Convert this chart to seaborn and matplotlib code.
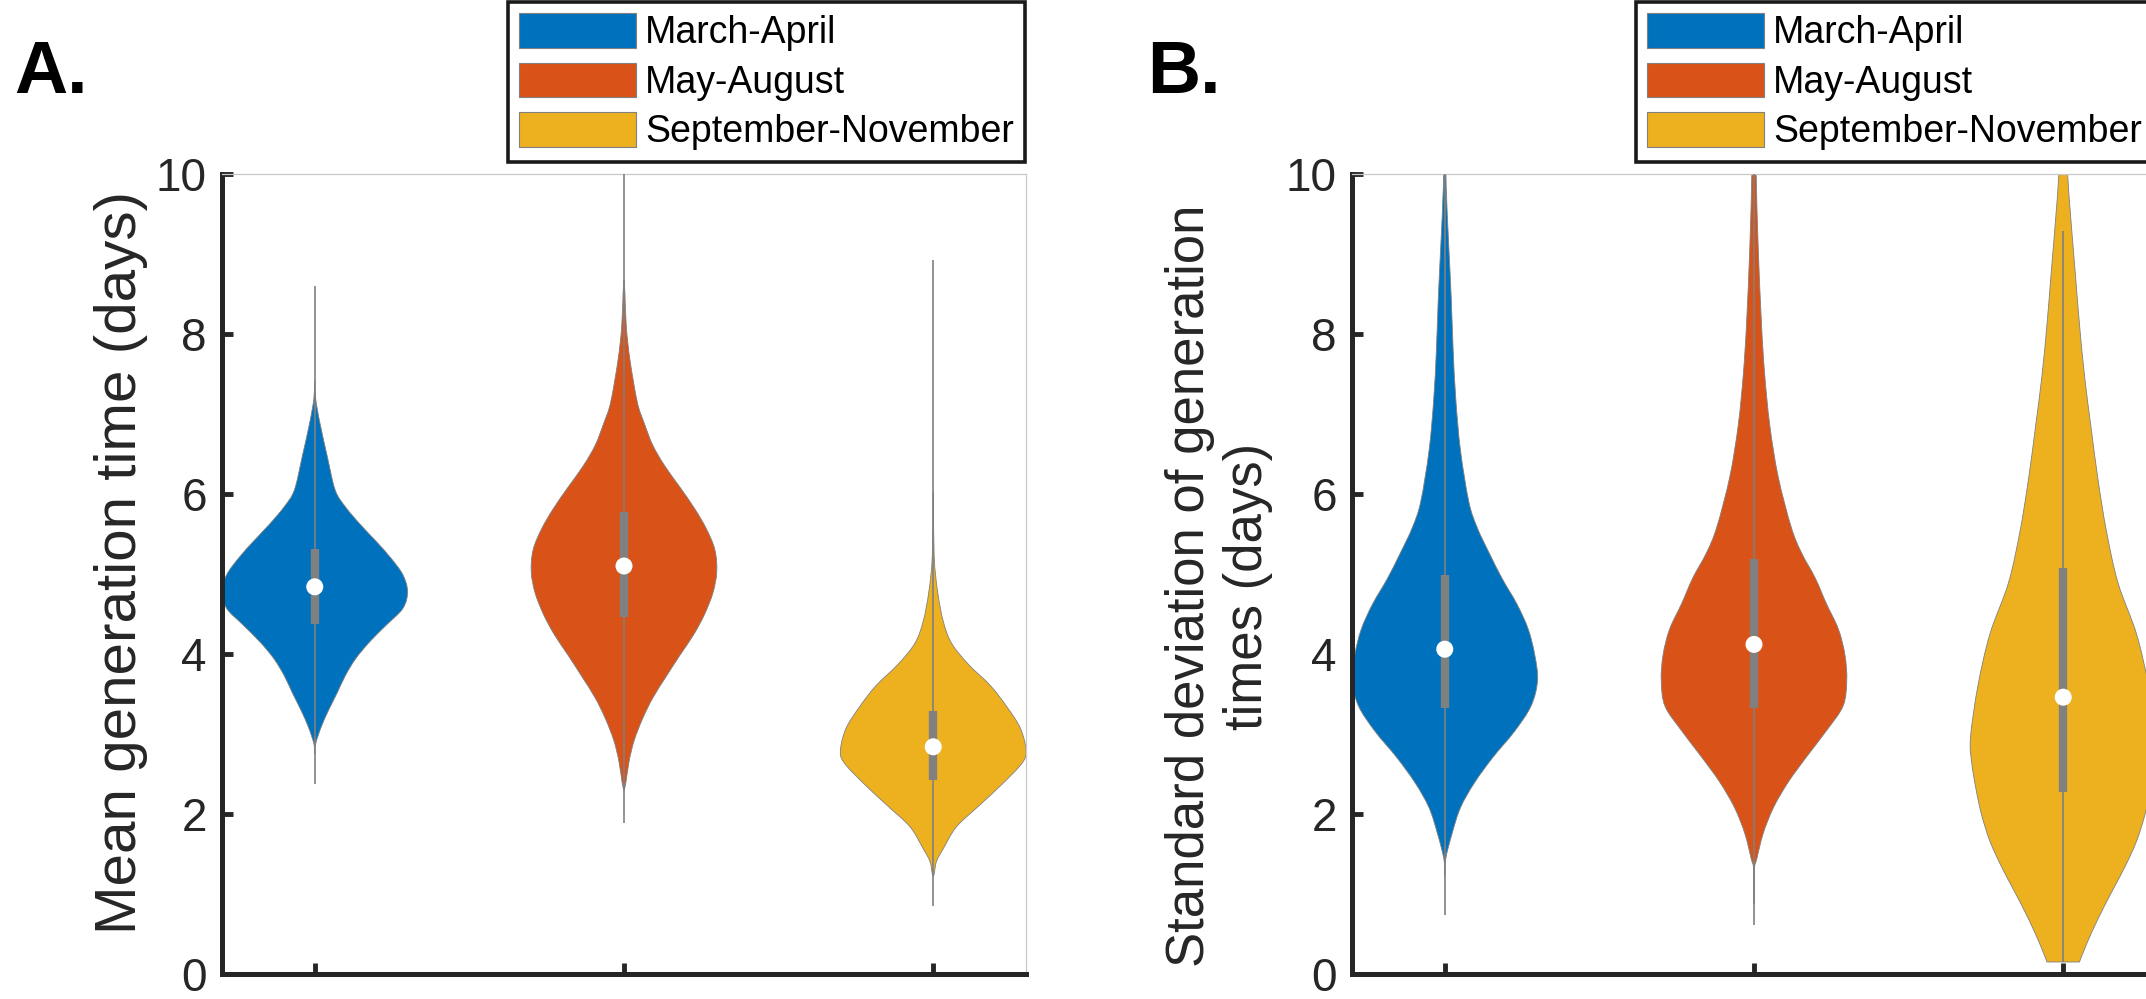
import numpy as np
import matplotlib
matplotlib.use("Agg")
import matplotlib.pyplot as plt
import seaborn as sns
from matplotlib.patches import Patch, PathPatch
from matplotlib.path import Path

# ---------------- data ----------------
seasons = ["March-April", "May-August", "September-November"]
colors = ["#0072BD", "#D95319", "#EDB120"]

# Panel A: mean generation time (days)
a_median = [4.84, 5.10, 2.84]
a_q1 = [4.38, 4.46, 2.43]
a_q3 = [5.31, 5.78, 3.29]
a_lo = [2.38, 1.89, 0.85]
a_hi = [8.60, 10.0, 8.93]

# violin outlines: y values and relative half-width (1 = widest)
a1_y = [7.42, 7.19, 6.89, 6.47, 6.05, 5.84, 5.62, 5.41, 5.20, 4.99, 4.78,
        4.57, 4.36, 4.15, 3.94, 3.73, 3.51, 3.30, 3.09, 2.88, 2.75]
a1_w = [0.0, 0.01, 0.055, 0.135, 0.22, 0.33, 0.49, 0.66, 0.82, 0.95, 1.0,
        0.95, 0.77, 0.59, 0.44, 0.33, 0.24, 0.15, 0.07, 0.01, 0.0]
a2_y = [8.68, 8.51, 8.09, 7.67, 7.14, 6.88, 6.61, 6.35, 6.09, 5.82, 5.56, 5.30,
        5.03, 4.77, 4.50, 4.24, 3.98, 3.71, 3.45, 3.19, 2.92, 2.66, 2.39, 2.29]
a2_w = [0.0, 0.01, 0.025, 0.065, 0.145, 0.22, 0.31, 0.44, 0.60, 0.76, 0.89, 0.98,
        1.0, 0.96, 0.87, 0.75, 0.60, 0.45, 0.31, 0.20, 0.11, 0.055, 0.02, 0.0]
a3_y = [6.03, 5.23, 4.78, 4.40, 4.13, 3.87, 3.60, 3.33, 3.07, 2.80, 2.64,
        2.37, 2.10, 1.84, 1.57, 1.41, 1.25, 1.22]
a3_w = [0.0, 0.01, 0.047, 0.11, 0.20, 0.38, 0.62, 0.80, 0.94, 1.0, 0.96,
        0.74, 0.49, 0.25, 0.11, 0.036, 0.01, 0.0]

# Panel B: standard deviation of generation times (days)
b_median = [4.06, 4.12, 3.46]
b_q1 = [3.33, 3.32, 2.27]
b_q3 = [4.99, 5.19, 5.07]
b_lo = [0.74, 0.61, 0.15]
b_hi = [10.5, 10.5, 9.29]

b1_y = [10.4, 9.85, 9.08, 8.45, 7.81, 7.17, 6.54, 5.90, 5.58, 5.26, 4.94, 4.62,
        4.31, 3.99, 3.67, 3.35, 3.03, 2.71, 2.39, 2.08, 1.76, 1.44, 1.22]
b1_w = [0.01, 0.015, 0.044, 0.07, 0.09, 0.12, 0.17, 0.26, 0.35, 0.48, 0.62, 0.78,
        0.90, 0.97, 1.0, 0.93, 0.75, 0.52, 0.32, 0.17, 0.08, 0.01, 0.0]
b2_y = [10.4, 9.92, 9.09, 8.14, 7.50, 6.86, 6.22, 5.59, 5.27, 4.95, 4.63, 4.31,
        3.99, 3.67, 3.35, 3.04, 2.72, 2.40, 2.08, 1.76, 1.44, 1.31, 0.87]
b2_w = [0.02, 0.025, 0.045, 0.08, 0.115, 0.17, 0.26, 0.40, 0.51, 0.66, 0.78, 0.91,
        0.98, 1.0, 0.96, 0.78, 0.57, 0.37, 0.21, 0.10, 0.03, 0.005, 0.0]
b3_y = [10.4, 10.0, 9.41, 8.76, 8.12, 7.47, 6.83, 6.18, 5.54, 4.89, 4.25, 3.60,
        2.95, 2.63, 2.31, 1.99, 1.66, 1.34, 1.02, 0.69, 0.37, 0.15]
b3_w = [0.04, 0.047, 0.084, 0.13, 0.175, 0.23, 0.30, 0.375, 0.465, 0.59, 0.79, 0.92,
        1.0, 0.985, 0.94, 0.88, 0.79, 0.665, 0.52, 0.375, 0.25, 0.175]

y_ticks = [0, 2, 4, 6, 8, 10]
a_ylabel = "Mean generation time (days)"
b_ylabel = "Standard deviation of generation\ntimes (days)"

# ---------------- style ----------------
sns.set_theme(style="white")
plt.rcParams["font.family"] = ["Liberation Sans", "DejaVu Sans"]

DARK = "#262626"
GREY = "#808080"
MAXW = 0.3

fig = plt.figure(figsize=(21.46, 9.99), dpi=100)
axA = fig.add_axes([222 / 2146, 25 / 999, 804 / 2146, 800 / 999])
axB = fig.add_axes([1352 / 2146, 25 / 999, 804 / 2146, 800 / 999])


def smooth_segments(pts):
    """Bezier control points of a Catmull-Rom curve through the given points."""
    pts = np.asarray(pts, dtype=float)
    ext = np.vstack([pts[0], pts, pts[-1]])
    verts = []
    for k in range(len(pts) - 1):
        p0, p1, p2, p3 = ext[k], ext[k + 1], ext[k + 2], ext[k + 3]
        verts += [p1 + (p2 - p0) / 6.0, p2 - (p3 - p1) / 6.0, p2]
    return verts


def violin_path(center, ys, ws):
    ys = np.asarray(ys, dtype=float)
    ws = MAXW * np.asarray(ws, dtype=float)
    left = np.column_stack([center - ws, ys])
    right = np.column_stack([center + ws, ys])[::-1]
    verts = [left[0]] + smooth_segments(left) + [right[0]] + smooth_segments(right) + [left[0]]
    nseg = 3 * (len(ys) - 1)
    codes = ([Path.MOVETO] + [Path.CURVE4] * nseg + [Path.LINETO]
             + [Path.CURVE4] * nseg + [Path.CLOSEPOLY])
    return Path(np.array(verts), codes)


def draw_panel(ax, profiles, med, q1, q3, lo, hi):
    pos = np.arange(len(profiles))
    for i, (py, pw) in enumerate(profiles):
        patch = PathPatch(violin_path(i, py, pw), facecolor=colors[i],
                          edgecolor=GREY, lw=0.6, zorder=2)
        ax.add_patch(patch)
    ax.vlines(pos, lo, hi, color=GREY, lw=1.2, zorder=3)
    ax.vlines(pos, q1, q3, color=GREY, lw=6, zorder=4)
    sns.scatterplot(x=pos, y=med, ax=ax, color="white", s=150,
                    edgecolor="none", zorder=5, legend=False)
    ax.set_xlim(-0.3, 2.3)
    ax.set_ylim(0, 10)
    ax.set_xticks(pos)
    ax.set_xticklabels([])
    ax.set_yticks(y_ticks)
    ax.set_yticklabels([str(t) for t in y_ticks])
    ax.tick_params(axis="both", which="major", direction="in", length=8,
                   width=3.5, color=DARK, labelcolor=DARK, labelsize=33,
                   left=True, bottom=True, top=False, right=False, pad=11)
    for s in ["left", "bottom"]:
        ax.spines[s].set_linewidth(3.6)
        ax.spines[s].set_color(DARK)
    for s in ["top", "right"]:
        ax.spines[s].set_linewidth(0.9)
        ax.spines[s].set_color("#c8c8c8")
    ax.grid(False)


draw_panel(axA, [(a1_y, a1_w), (a2_y, a2_w), (a3_y, a3_w)],
           a_median, a_q1, a_q3, a_lo, a_hi)
draw_panel(axB, [(b1_y, b1_w), (b2_y, b2_w), (b3_y, b3_w)],
           b_median, b_q1, b_q3, b_lo, b_hi)

axA.set_ylabel(a_ylabel, fontsize=42, color=DARK)
axA.yaxis.set_label_coords(-0.092, 0.514)
axB.set_ylabel(b_ylabel, fontsize=38, color=DARK, linespacing=1.2)
axB.yaxis.set_label_coords(-0.098, 0.485)

handles = [Patch(facecolor=c, edgecolor=GREY, lw=0.8, label=s)
           for c, s in zip(colors, seasons)]
for ax, xr in [(axA, 1025 / 2146), (axB, 2153 / 2146)]:
    leg = ax.legend(handles=handles, loc="upper right",
                    bbox_to_anchor=(xr, 1 - 2 / 999),
                    bbox_transform=fig.transFigure, borderaxespad=0,
                    fontsize=27, fancybox=False, framealpha=1,
                    handlelength=3.1, handleheight=1.05, handletextpad=0.25,
                    labelspacing=0.3, borderpad=0.3)
    leg.get_frame().set_linewidth(2.6)
    leg.get_frame().set_edgecolor("#1a1a1a")
    for t in leg.get_texts():
        t.set_color("black")

fig.text(14 / 2146, 1 - 93 / 999, "A.", fontsize=53, fontweight="bold",
         color="black", va="baseline", ha="left")
fig.text(1147 / 2146, 1 - 93 / 999, "B.", fontsize=53, fontweight="bold",
         color="black", va="baseline", ha="left")

fig.savefig("out.png", dpi=100)
